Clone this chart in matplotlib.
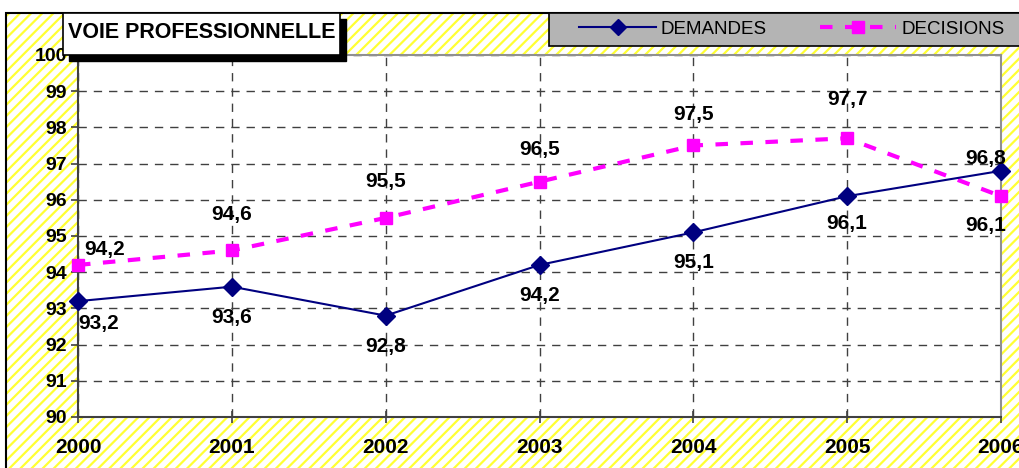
import matplotlib
matplotlib.use('Agg')
import matplotlib.pyplot as plt
from matplotlib.patches import Rectangle
from matplotlib.lines import Line2D

plt.rcParams['font.family'] = ['Liberation Sans', 'DejaVu Sans']
plt.rcParams['hatch.linewidth'] = 1.6

# data
years = [2000, 2001, 2002, 2003, 2004, 2005, 2006]
demandes = [93.2, 93.6, 92.8, 94.2, 95.1, 96.1, 96.8]
decisions = [94.2, 94.6, 95.5, 96.5, 97.5, 97.7, 96.1]
y_ticks = list(range(90, 101))
title = 'VOIE PROFESSIONNELLE'

# label offsets in points (dx, dy)
dem_offsets = [(15, -16), (0, -22), (0, -22), (0, -22), (0, -22), (0, -20), (-11, 9)]
dec_offsets = [(19, 11), (0, 26), (0, 26), (0, 23), (0, 22), (0, 28), (-11, -21)]

W, H = 1020, 468


def fx(px):
	return px / W


def fy(py):
	return 1 - py / H


fig = plt.figure(figsize=(10.2, 4.68), dpi=100)
fig.patch.set_facecolor('white')

# hatched yellow chart area
bg = Rectangle((fx(6), fy(480)), fx(1030) - fx(6), fy(13) - fy(480), transform=fig.transFigure,
			facecolor='white', edgecolor='#ffff33', hatch='///', linewidth=0, zorder=-2)
fig.add_artist(bg)
border = Rectangle((fx(6), fy(480)), fx(1030) - fx(6), fy(13) - fy(480), transform=fig.transFigure,
				fill=False, edgecolor='black', linewidth=1.5, zorder=-1)
fig.add_artist(border)

ax = fig.add_axes([fx(78), fy(417), fx(1001) - fx(78), fy(55) - fy(417)])
ax.set_facecolor('white')

ax.plot(years, demandes, color='#000080', linewidth=1.5, marker='D', markersize=9,
		clip_on=False, zorder=4)
ax.plot(years, decisions, color='#ff00ff', linewidth=3, linestyle=(0, (3, 3)), marker='s',
		markersize=8, clip_on=False, zorder=3)

for x, v, off in zip(years, demandes, dem_offsets):
	ax.annotate(f'{v:.1f}'.replace('.', ','), (x, v), xytext=off, textcoords='offset points',
				ha='center', va='center', fontsize=15, fontweight='bold', zorder=6,
				annotation_clip=False)
for x, v, off in zip(years, decisions, dec_offsets):
	ax.annotate(f'{v:.1f}'.replace('.', ','), (x, v), xytext=off, textcoords='offset points',
				ha='center', va='center', fontsize=15, fontweight='bold', zorder=6,
				annotation_clip=False)

ax.set_xlim(2000, 2006)
ax.set_ylim(90, 100)
ax.set_xticks(years)
ax.set_yticks(y_ticks)
ax.set_xticklabels([str(y) for y in years], fontsize=15, fontweight='bold')
ax.set_yticklabels([str(t) for t in y_ticks], fontsize=14, fontweight='bold')
ax.tick_params(axis='x', direction='inout', length=8, width=1.2, color='#404040', pad=11)
ax.tick_params(axis='y', direction='out', length=5, width=1.2, color='#404040', pad=3)
ax.grid(True, color='#404040', linestyle=(0, (6, 5)), linewidth=1)
ax.set_axisbelow(True)
for side in ['top', 'right']:
	ax.spines[side].set_color('#909090')
	ax.spines[side].set_linewidth(1.5)
for side in ['left', 'bottom']:
	ax.spines[side].set_color('#404040')
	ax.spines[side].set_linewidth(1.5)

# title box with shadow
shadow = Rectangle((fx(69), fy(61)), fx(346) - fx(69), fy(19) - fy(61), transform=fig.transFigure,
				facecolor='black', edgecolor='black', zorder=8)
fig.add_artist(shadow)
tbox = Rectangle((fx(63), fy(55)), fx(340) - fx(63), fy(13) - fy(55), transform=fig.transFigure,
				facecolor='white', edgecolor='black', linewidth=1.2, zorder=9)
fig.add_artist(tbox)
fig.text(fx(202), fy(32), title, ha='center', va='center', fontsize=15.5, fontweight='bold', zorder=10)

# legend box
lbox = Rectangle((fx(549), fy(46)), fx(1030) - fx(549), fy(13) - fy(46), transform=fig.transFigure,
				facecolor='#b4b4b4', edgecolor='black', linewidth=1.2, zorder=8)
fig.add_artist(lbox)
handles = [
	Line2D([], [], color='#000080', linewidth=1.5, marker='D', markersize=8),
	Line2D([], [], color='#ff00ff', linewidth=3, linestyle=(0, (3, 3)), marker='s', markersize=8),
]
leg = fig.legend(handles, ['DEMANDES', 'DECISIONS'], loc='center left', ncol=2,
				bbox_to_anchor=(fx(570), fy(29)), frameon=False, fontsize=13.5,
				handlelength=4.1, handletextpad=0.25, columnspacing=2.8, borderpad=0)
leg.set_zorder(10)

fig.savefig('out.png', dpi=100)
